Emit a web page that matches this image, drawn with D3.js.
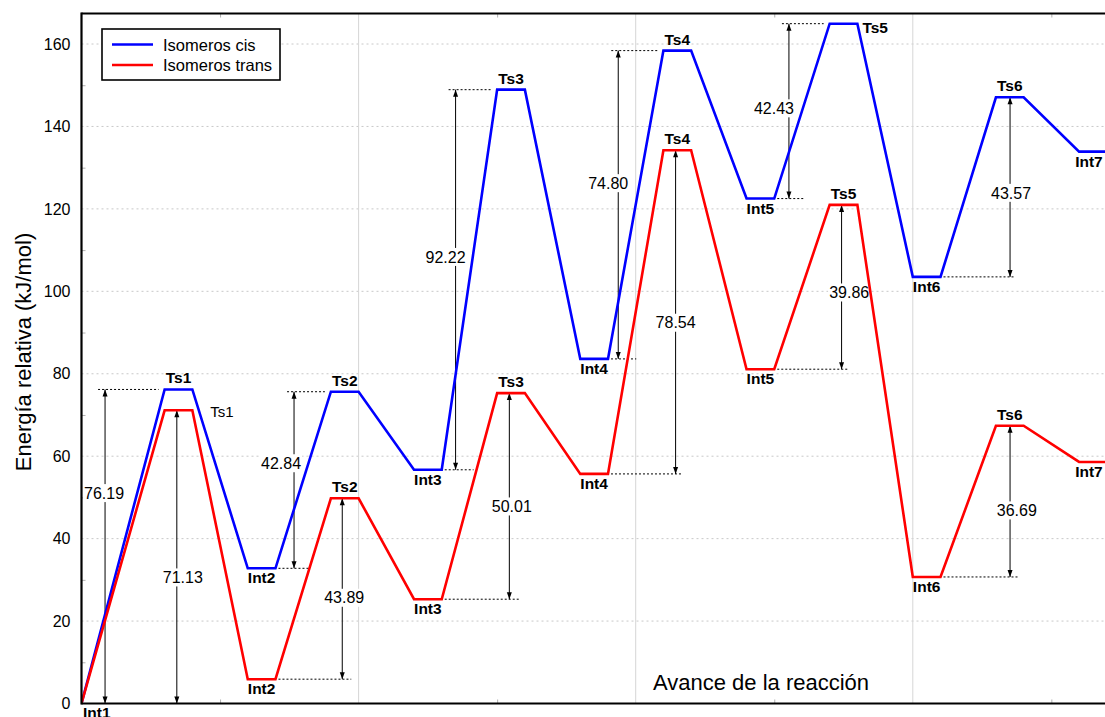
<!DOCTYPE html>
<html>
<head>
<meta charset="utf-8">
<script src="https://cdn.jsdelivr.net/npm/d3@7"></script>
<style>
  body { margin: 0; background: #fff; }
  svg { display: block; font-family: "Liberation Sans", Arial, Helvetica, sans-serif; }
</style>
</head>
<body>
<svg id="chart" width="1105" height="717"></svg>
<script>
// Reaction stages along the profile
const stages = ["Int1", "Ts1", "Int2", "Ts2", "Int3", "Ts3", "Int4", "Ts4", "Int5", "Ts5", "Int6", "Ts6", "Int7"];

// Relative energies (kJ/mol) of each stage
const cisEnergy   = [0, 76.19, 32.80, 75.64, 56.70, 148.92, 83.60, 158.40, 122.50, 164.93, 103.50, 147.07, 133.90];
const transEnergy = [0, 71.13,  5.90, 49.79, 25.30,  75.31, 55.70, 134.24,  81.10, 120.96,  30.70,  67.39,  58.60];

// Barriers are measured from each intermediate to the following transition state
const barrierPairs = [[0, 1], [2, 3], [4, 5], [6, 7], [8, 9], [10, 11]];

const seriesNames = ["Isomeros cis", "Isomeros trans"];
const yTicks = [0, 20, 40, 60, 80, 100, 120, 140, 160];
const yMinorTicks = [10, 30, 50, 70, 90, 110, 130, 150];
const xGridTicks = [10, 20, 30];
const xMinorTicks = [5, 15, 25, 35];

const W = 1105, H = 717;
const margin = { left: 81.5, top: 13.5, bottom: 13.5 };
const unitPx = 27.71;
const plotBottom = H - margin.bottom;

const svg = d3.select("#chart");

const x = d3.scaleLinear().domain([0, 37]).range([margin.left, margin.left + 37 * unitPx]);
const y = d3.scaleLinear().domain([0, 167.4]).range([plotBottom, margin.top]);

const colors = { cis: "#0000ff", trans: "#ff0000" };

// plateau extent of a stage in reaction-coordinate units
const stageStart = i => (i === 0 ? 0 : 3 * i);
const stageEnd = i => (i === 0 ? 0 : 3 * i + 1);

// clip region for everything inside the frame
svg.append("defs").append("clipPath").attr("id", "plotClip")
  .append("rect")
  .attr("x", x(0)).attr("y", y.range()[1])
  .attr("width", x(37) - x(0)).attr("height", y(0) - y.range()[1]);

// ---- grid ----
const grid = svg.append("g").attr("clip-path", "url(#plotClip)");
grid.selectAll("line.hgrid").data(yTicks.filter(v => v > 0)).join("line")
  .attr("x1", x(0)).attr("x2", x(37))
  .attr("y1", d => y(d)).attr("y2", d => y(d))
  .attr("stroke", "#c8c8c8").attr("stroke-width", 1).attr("stroke-dasharray", "2,3");
grid.selectAll("line.vgrid").data(xGridTicks).join("line")
  .attr("x1", d => x(d)).attr("x2", d => x(d))
  .attr("y1", y(0)).attr("y2", y.range()[1])
  .attr("stroke", "#d6d6d6").attr("stroke-width", 1);

// minor ticks drawn inward on the frame
const minorStyle = g => {
  g.select(".domain").remove();
  g.selectAll(".tick line").attr("stroke", "#b0b0b0");
};
svg.append("g").attr("transform", `translate(${x(0)},0)`)
  .call(d3.axisRight(y).tickValues(yMinorTicks).tickSize(4).tickFormat(""))
  .call(minorStyle);
svg.append("g").attr("transform", `translate(0,${y(0)})`)
  .call(d3.axisTop(x).tickValues(xMinorTicks).tickSize(4).tickFormat(""))
  .call(minorStyle);
svg.append("g").attr("transform", `translate(0,${y.range()[1]})`)
  .call(d3.axisBottom(x).tickValues(xMinorTicks).tickSize(4).tickFormat(""))
  .call(minorStyle);

// ---- barrier annotations ----
// arrow x (reaction units), label shift (px), label position along arrow, dotted extension (px)
const noteLayout = {
  cis: [
    { ax: 0.85, dx: -1, t: 0.67, ext: 0 },
    { ax: 7.67, dx: -13, t: 0.595, ext: 16 },
    { ax: 13.50, dx: -10, t: 0.56, ext: 18 },
    { ax: 19.37, dx: -10, t: 0.57, ext: 18 },
    { ax: 25.53, dx: -15, t: 0.516, ext: 16 },
    { ax: 33.51, dx: 1, t: 0.468, ext: 5 }
  ],
  trans: [
    { ax: 3.44, dx: 6, t: 0.43, ext: 0 },
    { ax: 9.41, dx: 2, t: 0.45, ext: 9 },
    { ax: 15.44, dx: 2.5, t: 0.45, ext: 11 },
    { ax: 21.44, dx: 0, t: 0.467, ext: 7 },
    { ax: 27.43, dx: 7.6, t: 0.467, ext: 6 },
    { ax: 33.51, dx: 6.7, t: 0.44, ext: 8 }
  ]
};

const notes = svg.append("g");
function drawBarriers(energy, layout) {
  barrierPairs.forEach(([from, to], k) => {
    const lo = energy[from], hi = energy[to];
    const L = layout[k];
    const xa = x(L.ax), y1 = y(lo), y2 = y(hi);
    // dotted reference at the lower level
    if (lo > 0) {
      notes.append("line")
        .attr("x1", x(stageEnd(from)) + 3).attr("x2", xa + L.ext)
        .attr("y1", y1).attr("y2", y1)
        .attr("stroke", "#000").attr("stroke-width", 1).attr("stroke-dasharray", "2,2");
    }
    // dotted reference at the upper level when the arrow sits before the plateau
    if (L.ax < stageStart(to)) {
      notes.append("line")
        .attr("x1", xa - 7).attr("x2", x(stageStart(to)) - 6)
        .attr("y1", y2).attr("y2", y2)
        .attr("stroke", "#000").attr("stroke-width", 1).attr("stroke-dasharray", "2,2");
    }
    notes.append("line")
      .attr("x1", xa).attr("x2", xa).attr("y1", y1).attr("y2", y2)
      .attr("stroke", "#000").attr("stroke-width", 1);
    notes.append("path")
      .attr("d", `M${xa - 2.5},${y2 + 7}L${xa},${y2}L${xa + 2.5},${y2 + 7}Z`)
      .attr("fill", "#000");
    notes.append("path")
      .attr("d", `M${xa - 2.5},${y1 - 7}L${xa},${y1}L${xa + 2.5},${y1 - 7}Z`)
      .attr("fill", "#000");
    const ly = y(lo + L.t * (hi - lo));
    const bg = notes.append("rect").attr("fill", "#fff");
    const txt = notes.append("text")
      .attr("x", xa + L.dx).attr("y", ly + 5.7)
      .attr("text-anchor", "middle").attr("font-size", 16).attr("fill", "#000")
      .text((hi - lo).toFixed(2));
    const bb = txt.node().getBBox();
    bg.attr("x", bb.x - 1).attr("y", ly - 9).attr("width", bb.width + 2).attr("height", 18);
  });
}
drawBarriers(cisEnergy, noteLayout.cis);
drawBarriers(transEnergy, noteLayout.trans);

// ---- energy profiles ----
const profilePoints = energy => {
  const pts = [];
  energy.forEach((e, i) => {
    pts.push([stageStart(i), e]);
    if (stageEnd(i) !== stageStart(i)) pts.push([stageEnd(i), e]);
  });
  return pts;
};
const line = d3.line().x(d => x(d[0])).y(d => y(d[1]));
const lines = svg.append("g").attr("clip-path", "url(#plotClip)");
lines.append("path").datum(profilePoints(cisEnergy))
  .attr("d", line).attr("fill", "none").attr("stroke", colors.cis).attr("stroke-width", 2.6);
lines.append("path").datum(profilePoints(transEnergy))
  .attr("d", line).attr("fill", "none").attr("stroke", colors.trans).attr("stroke-width", 2.6);

// ---- stage labels ----
const labels = svg.append("g").attr("font-weight", "bold").attr("font-size", 15.5).attr("fill", "#000");
const lastStage = stages.length - 1;
function drawStageLabels(energy, series) {
  stages.forEach((name, i) => {
    const e = energy[i];
    if (i === 0) {
      if (series === "cis") {
        labels.append("text").attr("x", x(0) + 1.5).attr("y", y(e) + 14).text(name);
      }
      return;
    }
    if (series === "trans" && name === "Ts1") return;
    const isTs = name.startsWith("Ts");
    // the last plateau runs past the right edge, so its label is pulled in a little
    const cx = x((stageStart(i) + stageEnd(i)) / 2) - (i === lastStage ? 4 : 0);
    if (series === "cis" && name === "Ts5") {
      labels.append("text").attr("x", x(stageEnd(i)) + 5).attr("y", y(e) + 9).text(name);
      return;
    }
    labels.append("text")
      .attr("x", cx).attr("y", isTs ? y(e) - 6 : y(e) + 15)
      .attr("text-anchor", "middle").text(name);
  });
}
drawStageLabels(cisEnergy, "cis");
drawStageLabels(transEnergy, "trans");

// plain marker beside the trans Ts1 plateau
svg.append("text")
  .attr("x", x(stageEnd(1)) + 18).attr("y", y(transEnergy[1]) + 6.5)
  .attr("font-size", 15).attr("fill", "#000").text("Ts1");

// ---- frame ----
const frame = svg.append("g").attr("stroke", "#000").attr("stroke-width", 2.2).attr("fill", "none");
frame.append("line").attr("x1", x(0)).attr("x2", x(0)).attr("y1", y.range()[1] - 1).attr("y2", y(0) + 1);
frame.append("line").attr("x1", x(0)).attr("x2", W + 5).attr("y1", y.range()[1]).attr("y2", y.range()[1]);
frame.append("line").attr("x1", x(0)).attr("x2", W + 5).attr("y1", y(0)).attr("y2", y(0));

// y axis labels
svg.append("g").attr("transform", `translate(${x(0)},0)`)
  .call(d3.axisLeft(y).tickValues(yTicks).tickSize(0).tickPadding(11).tickFormat(d3.format("d")))
  .call(g => g.select(".domain").remove())
  .call(g => g.selectAll("text").attr("font-size", 16).attr("fill", "#000")
    .attr("font-family", "'Liberation Sans', Arial, sans-serif"));

// axis titles
svg.append("text")
  .attr("transform", `translate(31,352) rotate(-90)`)
  .attr("text-anchor", "middle").attr("font-size", 22).attr("fill", "#000")
  .text("Energía relativa (kJ/mol)");
svg.append("text")
  .attr("x", 653).attr("y", 690)
  .attr("font-size", 22).attr("fill", "#000")
  .text("Avance de la reacción");

// ---- legend ----
const legend = svg.append("g").attr("transform", "translate(102,29)");
legend.append("rect").attr("width", 178).attr("height", 51)
  .attr("fill", "#fff").attr("stroke", "#000").attr("stroke-width", 1.6);
seriesNames.forEach((name, k) => {
  const ly = 15.5 + k * 20.5;
  legend.append("line").attr("x1", 10).attr("x2", 51).attr("y1", ly).attr("y2", ly)
    .attr("stroke", k === 0 ? colors.cis : colors.trans).attr("stroke-width", 2.6);
  legend.append("text").attr("x", 61).attr("y", ly + 6)
    .attr("font-size", 16.5).attr("fill", "#000").text(name);
});
</script>
</body>
</html>
